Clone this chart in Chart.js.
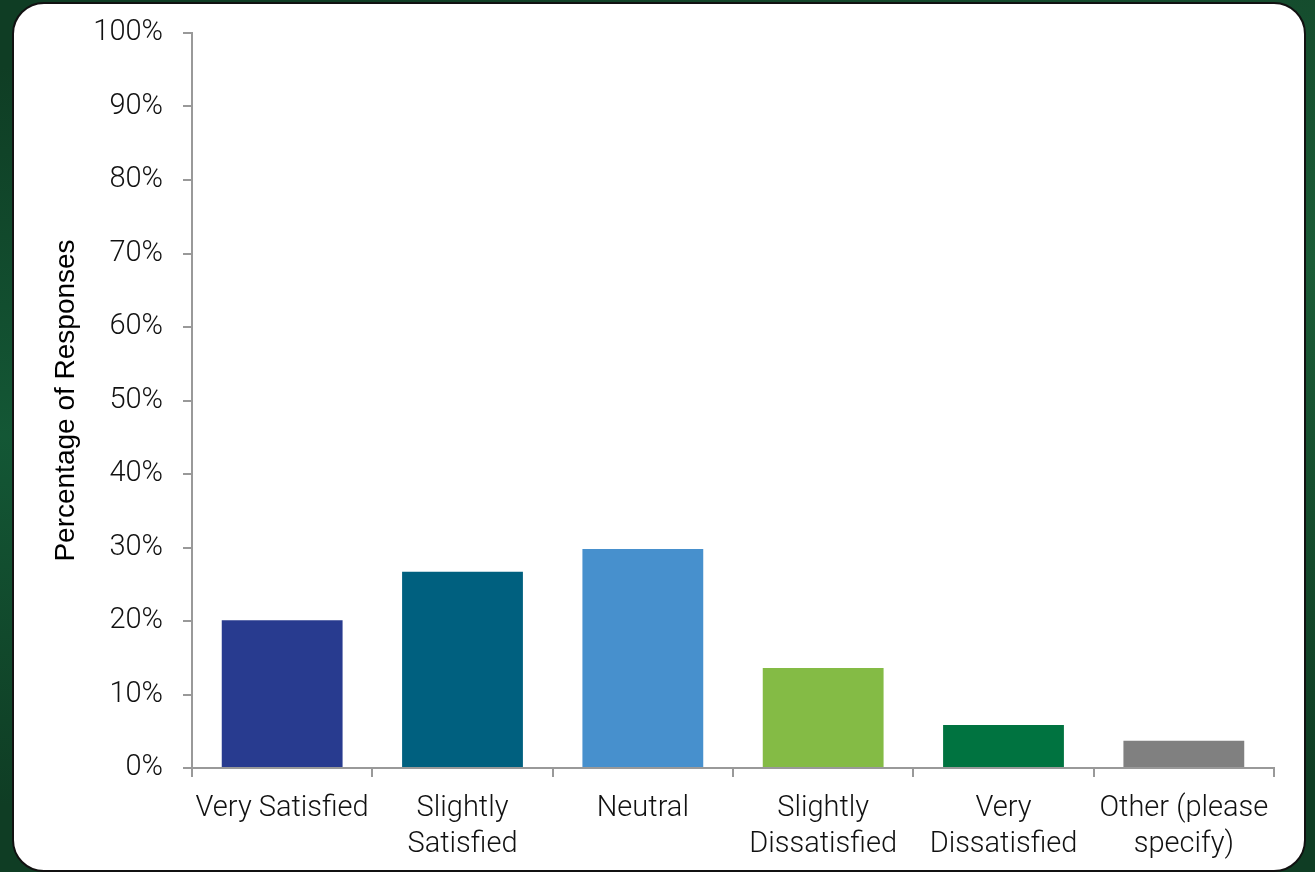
<!DOCTYPE html>
<html>
<head>
<meta charset="utf-8">
<script src="https://cdn.jsdelivr.net/npm/chart.js@4"></script>
<style>
  html, body { margin: 0; padding: 0; }
  body {
    width: 1315px; height: 872px; overflow: hidden; position: relative;
    background:
      radial-gradient(ellipse at 0% 50%, rgba(20,90,55,0.9), rgba(10,45,28,0) 60%),
      radial-gradient(ellipse at 100% 30%, rgba(30,100,60,0.8), rgba(10,45,28,0) 60%),
      #0f3d24;
  }
  .panel {
    position: absolute; left: 12px; top: 2px; width: 1290px; height: 866px;
    background: #fff; border: 2px solid #111; border-radius: 32px;
  }
  canvas { position: absolute; left: 0; top: 0; }
</style>
</head>
<body>
<div class="panel"></div>
<canvas id="myChart" width="1315" height="872"></canvas>
<script>
const categories = [
  "Very Satisfied",
  ["Slightly", "Satisfied"],
  "Neutral",
  ["Slightly", "Dissatisfied"],
  ["Very", "Dissatisfied"],
  ["Other (please", "specify)"]
];
const responses = [20.1, 26.7, 29.8, 13.6, 5.85, 3.7];
const barColors = ["#283b8f", "#00607f", "#4790cd", "#84bb45", "#007340", "#808080"];
const yTicks = [0, 10, 20, 30, 40, 50, 60, 70, 80, 90, 100];

const tickFont = { family: "Roboto, 'Liberation Sans', sans-serif", size: 29, weight: 300, lineHeight: 1.24 };

const ctx = document.getElementById("myChart").getContext("2d");
new Chart(ctx, {
  type: "bar",
  data: {
    labels: categories,
    datasets: [{
      label: "Percentage of Responses",
      data: responses,
      backgroundColor: barColors,
      barPercentage: 0.67,
      categoryPercentage: 1
    }]
  },
  options: {
    responsive: false,
    animation: false,
    layout: { padding: { left: 0, top: 33, right: 41, bottom: 0 } },
    plugins: { legend: { display: false }, tooltip: { enabled: false } },
    scales: {
      x: {
        grid: { offset: true, drawOnChartArea: false, drawTicks: true, tickLength: 9, color: "#999", lineWidth: 2 },
        border: { color: "#999", width: 2 },
        ticks: { color: "#111", font: tickFont, padding: 14, maxRotation: 0, autoSkip: false },
        afterFit: s => { s.height = 104; s.paddingLeft = 0; s.paddingRight = 0; }
      },
      y: {
        min: 0, max: 100,
        afterBuildTicks: s => { s.ticks = yTicks.map(v => ({ value: v })); },
        grid: { drawOnChartArea: false, drawTicks: true, tickLength: 9, color: "#999", lineWidth: 2 },
        border: { color: "#999", width: 2 },
        ticks: { color: "#111", font: tickFont, padding: 20, callback: v => v + "%" },
        title: {
          display: true, text: "Percentage of Responses", color: "#000",
          font: { family: "'Liberation Sans', Arial, sans-serif", size: 28, lineHeight: 1.2 },
          padding: { top: 49, bottom: 0 }
        },
        afterFit: s => { s.width = 192; s.paddingTop = 0; s.paddingBottom = 0; }
      }
    }
  }
});
</script>
</body>
</html>
